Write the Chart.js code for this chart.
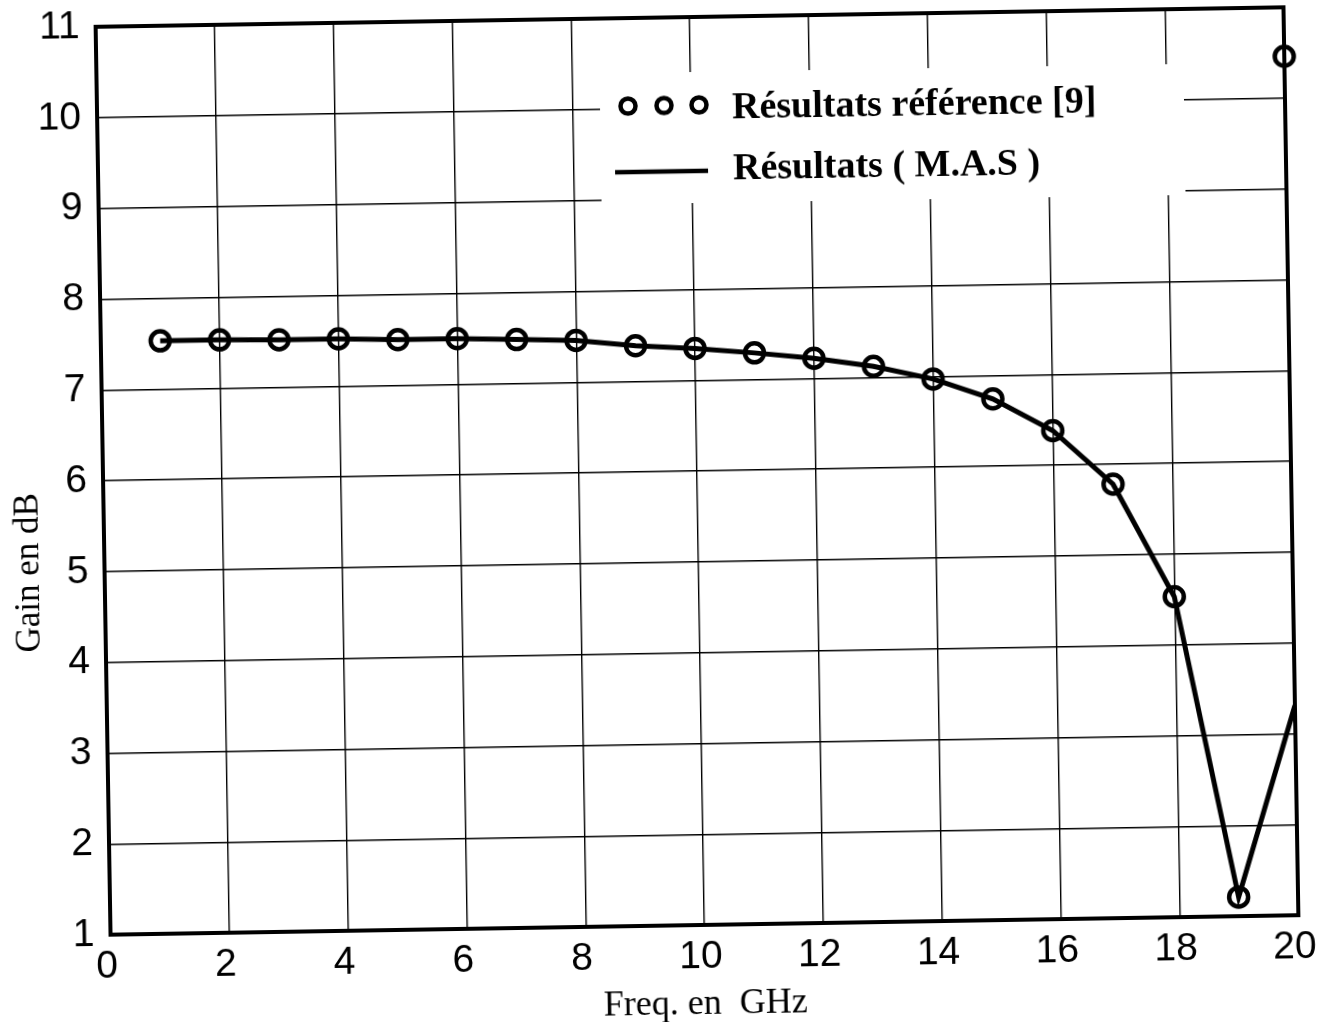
<!DOCTYPE html>
<html>
<head>
<meta charset="utf-8">
<title>Gain en dB</title>
<script src="https://cdn.jsdelivr.net/npm/chart.js@4.4.1/dist/chart.umd.min.js"></script>
<style>
  html, body { margin: 0; padding: 0; background: #fff; overflow: hidden; }
  #wrap {
    position: absolute; left: 0; top: 0; width: 1336px; height: 1022px;
    transform: rotate(-0.94deg); transform-origin: 697px 471px;
  }
  canvas { display: block; }
</style>
</head>
<body>
<div id="wrap"><canvas id="gain" width="1336" height="1022"></canvas></div>
<script>
// Frequencies (GHz) of the computed points
const freqGHz = [1, 2, 3, 4, 5, 6, 7, 8, 9, 10, 11, 12, 13, 14, 15, 16, 17, 18, 19, 20];
// Gain (dB), reference results [9]
const gainReference = [7.53, 7.53, 7.52, 7.52, 7.50, 7.50, 7.48, 7.46, 7.39, 7.35,
                       7.29, 7.22, 7.12, 6.97, 6.74, 6.38, 5.78, 4.53, 1.21, 10.46];
// Gain (dB), M.A.S results
const gainMAS = [7.53, 7.53, 7.52, 7.52, 7.50, 7.50, 7.48, 7.46, 7.39, 7.35,
                 7.29, 7.22, 7.12, 6.97, 6.74, 6.38, 5.78, 4.53, 1.21, 3.31];
// Axis ticks
const xTickValues = [0, 2, 4, 6, 8, 10, 12, 14, 16, 18, 20];
const yTickValues = [1, 2, 3, 4, 5, 6, 7, 8, 9, 10, 11];
// Texts
const legendLabels = ['Résultats référence [9]', 'Résultats ( M.A.S )'];
const xTitle = 'Freq. en  GHz';
const yTitle = 'Gain en dB';

const INK = '#000';
const SANS = "'Liberation Sans', Arial, sans-serif";
const SERIF = "'Liberation Serif', 'Times New Roman', serif";

const toPoints = (xs, ys) => xs.map((x, i) => ({ x: x, y: ys[i] }));

// Heavy frame around the plotting area
const framePlugin = {
  id: 'frame',
  beforeDatasetsDraw(chart) {
    const { ctx, chartArea: a } = chart;
    ctx.save();
    ctx.strokeStyle = INK;
    ctx.lineWidth = 4;
    ctx.strokeRect(a.left, a.top, a.right - a.left, a.bottom - a.top);
    ctx.restore();
  }
};

// Vertical axis title, set a little below the middle of the axis
const yTitlePlugin = {
  id: 'yTitle',
  afterDraw(chart) {
    const { ctx, chartArea: a } = chart;
    const y = chart.scales.y.getPixelForValue(5);
    ctx.save();
    ctx.translate(a.left - 75, y);
    ctx.rotate(-Math.PI / 2);
    ctx.font = '35px ' + SERIF;
    ctx.fillStyle = INK;
    ctx.textAlign = 'center';
    ctx.textBaseline = 'middle';
    ctx.fillText(yTitle, 0, 0);
    ctx.restore();
  }
};

// Legend box inside the plot, on a white ground that hides the grid
const legendPlugin = {
  id: 'boxedLegend',
  afterDatasetsDraw(chart) {
    const { ctx, chartArea: a } = chart;
    const ref = chart.data.datasets[1];
    const mas = chart.data.datasets[0];
    const L = a.left, T = a.top;
    ctx.save();
    ctx.fillStyle = '#fff';
    ctx.fillRect(L + 503, T + 55, 584, 131);

    // row 1: three hollow circles
    ctx.strokeStyle = ref.pointBorderColor;
    ctx.lineWidth = 4.5;
    [531, 567, 602].forEach(dx => {
      ctx.beginPath();
      ctx.arc(L + dx, T + 88, 7.5, 0, Math.PI * 2);
      ctx.stroke();
    });
    // row 2: thick line
    ctx.strokeStyle = mas.borderColor;
    ctx.lineWidth = 4.5;
    ctx.beginPath();
    ctx.moveTo(L + 517, T + 154);
    ctx.lineTo(L + 610, T + 154);
    ctx.stroke();

    ctx.fillStyle = INK;
    ctx.font = 'bold 38px ' + SERIF;
    ctx.textAlign = 'left';
    ctx.textBaseline = 'middle';
    ctx.fillText(legendLabels[0], L + 635, T + 92);
    ctx.fillText(legendLabels[1], L + 635, T + 153);
    ctx.restore();
  }
};

new Chart(document.getElementById('gain'), {
  type: 'scatter',
  data: {
    datasets: [
      {
        label: legendLabels[1],
        data: toPoints(freqGHz, gainMAS),
        showLine: true,
        borderColor: INK,
        borderWidth: 5,
        pointRadius: 0,
        tension: 0,
        order: 2
      },
      {
        label: legendLabels[0],
        data: toPoints(freqGHz, gainReference),
        showLine: false,
        pointStyle: 'circle',
        pointRadius: 9.5,
        pointBorderWidth: 4.5,
        pointBorderColor: INK,
        pointBackgroundColor: 'rgba(0,0,0,0)',
        clip: false,
        order: 1
      }
    ]
  },
  options: {
    responsive: false,
    animation: false,
    devicePixelRatio: 1,
    layout: { padding: { left: 0, top: 17, right: 45, bottom: 0 } },
    plugins: {
      legend: { display: false },
      tooltip: { enabled: false }
    },
    scales: {
      x: {
        type: 'linear',
        position: 'bottom',
        min: 0,
        max: 20,
        afterBuildTicks: s => { s.ticks = xTickValues.map(v => ({ value: v })); },
        afterFit: s => { s.height = 97; s.paddingLeft = 0; s.paddingRight = 0; },
        grid: { color: INK, lineWidth: 1.4, drawTicks: false },
        border: { display: false },
        ticks: {
          color: INK,
          font: { family: SANS, size: 39 },
          padding: 9,
          labelOffset: -4,
          maxRotation: 0,
          autoSkip: false
        },
        title: {
          display: true,
          text: xTitle,
          color: INK,
          font: { family: SERIF, size: 36 },
          padding: { top: 0, bottom: -4 }
        }
      },
      y: {
        type: 'linear',
        position: 'left',
        min: 1,
        max: 11,
        afterBuildTicks: s => { s.ticks = yTickValues.map(v => ({ value: v })); },
        afterFit: s => { s.width = 103; s.paddingTop = 0; s.paddingBottom = 0; },
        grid: { color: INK, lineWidth: 1.4, drawTicks: false },
        border: { display: false },
        ticks: {
          color: INK,
          font: { family: SANS, size: 39 },
          padding: 16,
          autoSkip: false
        },
        title: { display: false }
      }
    }
  },
  plugins: [framePlugin, legendPlugin, yTitlePlugin]
});
</script>
</body>
</html>
